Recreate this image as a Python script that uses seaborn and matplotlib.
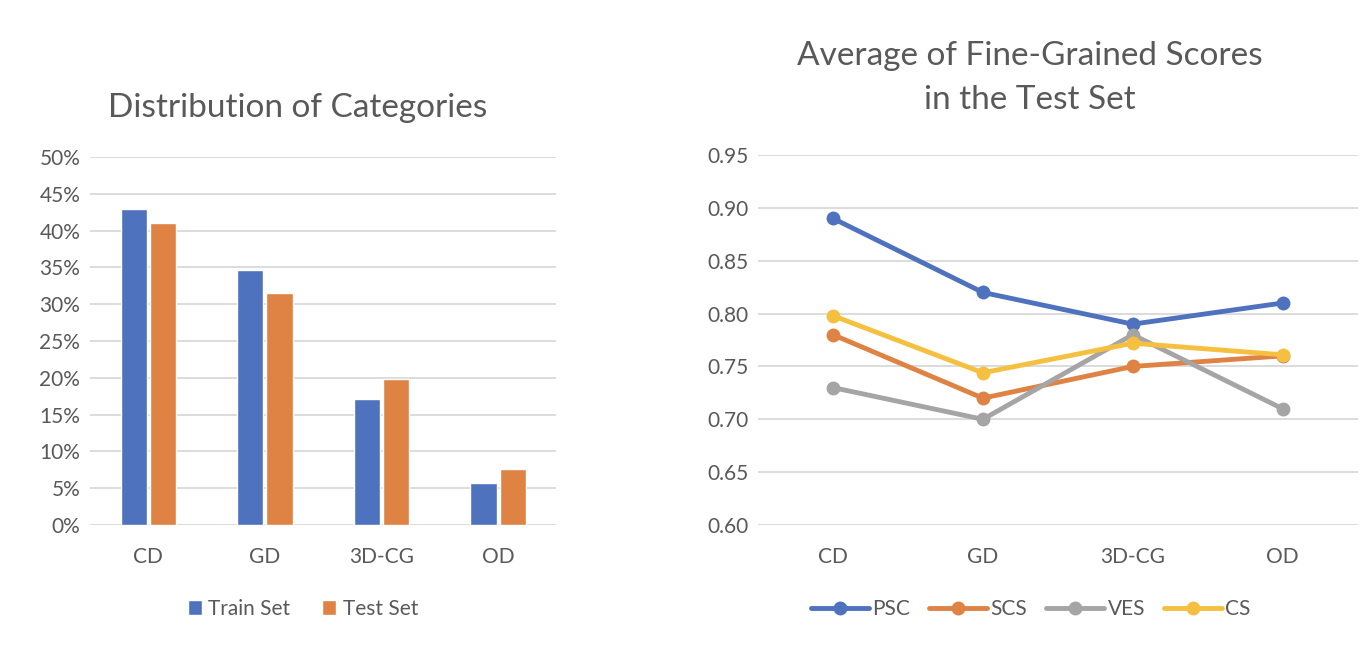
"""
Category distribution bars and fine-grained score lines, side by side.
"""
import pandas as pd
import matplotlib
matplotlib.use("Agg")
import matplotlib.pyplot as plt
from matplotlib.ticker import FuncFormatter
import seaborn as sns

categories = ["CD", "GD", "3D-CG", "OD"]

# share of samples per category (%)
train_share = [42.9, 34.7, 17.1, 5.7]
test_share = [41.0, 31.5, 19.9, 7.6]

# average fine-grained scores on the test set
psc = [0.89, 0.82, 0.79, 0.81]
scs = [0.78, 0.72, 0.75, 0.76]
ves = [0.73, 0.70, 0.78, 0.71]
cs = [0.798, 0.744, 0.772, 0.761]

TEXT = "#595959"
GRID = "#d9d9d9"
BLUE = "#4e72be"
ORANGE = "#de8344"
GRAY = "#a5a5a5"
YELLOW = "#f5c040"

sns.set_theme(style="white")
plt.rcParams["font.family"] = ["Lato", "DejaVu Sans"]
plt.rcParams["text.color"] = TEXT
plt.rcParams["xtick.color"] = TEXT
plt.rcParams["ytick.color"] = TEXT


def style_axes(ax):
    for s in ax.spines.values():
        s.set_visible(False)
    ax.grid(axis="y", color=GRID, linewidth=1.3)
    ax.set_axisbelow(True)
    ax.tick_params(axis="y", length=0, labelsize=15, pad=7)
    ax.tick_params(axis="x", length=0, labelsize=15, pad=16)
    ax.set_xlabel("")
    ax.set_ylabel("")


fig = plt.figure(figsize=(13.72, 6.68), dpi=100)

# ---- left: distribution of categories ----
bar_df = pd.DataFrame({
    "category": categories * 2,
    "share": train_share + test_share,
    "split": ["Train Set"] * 4 + ["Test Set"] * 4,
})
ax1 = fig.add_axes([0.0656, 0.214, 0.340, 0.551])
sns.barplot(data=bar_df, x="category", y="share", hue="split",
            palette=[BLUE, ORANGE], width=0.5, gap=0.1, ax=ax1,
            saturation=1)
ax1.set_ylim(0, 50)
ax1.set_yticks(range(0, 51, 5))
ax1.yaxis.set_major_formatter(FuncFormatter(lambda v, p: f"{v:.0f}%"))
style_axes(ax1)
ax1.set_title("Distribution of Categories", fontsize=24, color=TEXT,
              x=0.445, pad=29)
ax1.legend(loc="upper center", bbox_to_anchor=(0.456, -0.15), ncol=2,
           frameon=False, fontsize=15, handlelength=0.7, handleheight=0.7,
           handletextpad=0.3, columnspacing=1.5, labelcolor=TEXT)

# ---- right: fine-grained scores ----
line_df = pd.DataFrame({
    "category": categories * 4,
    "score": psc + scs + ves + cs,
    "metric": ["PSC"] * 4 + ["SCS"] * 4 + ["VES"] * 4 + ["CS"] * 4,
})
ax2 = fig.add_axes([0.5525, 0.214, 0.437, 0.554])
sns.lineplot(data=line_df, x="category", y="score", hue="metric",
             palette=[BLUE, ORANGE, GRAY, YELLOW], marker="o",
             markersize=10, markeredgewidth=0, linewidth=3.5,
             sort=False, ax=ax2)
ax2.set_xlim(-0.5, 3.5)
ax2.set_ylim(0.60, 0.95)
ax2.set_yticks([0.60, 0.65, 0.70, 0.75, 0.80, 0.85, 0.90, 0.95])
ax2.yaxis.set_major_formatter(FuncFormatter(lambda v, p: f"{v:.2f}"))
style_axes(ax2)
ax2.set_title("Average of Fine-Grained Scores\nin the Test Set", fontsize=24,
              color=TEXT, x=0.453, pad=33, linespacing=1.6)
ax2.legend(loc="upper center", bbox_to_anchor=(0.455, -0.15), ncol=4,
           frameon=False, fontsize=15, handlelength=2.8,
           handletextpad=0.15, columnspacing=0.9, labelcolor=TEXT)

fig.savefig("out.png", dpi=100, facecolor="white")
